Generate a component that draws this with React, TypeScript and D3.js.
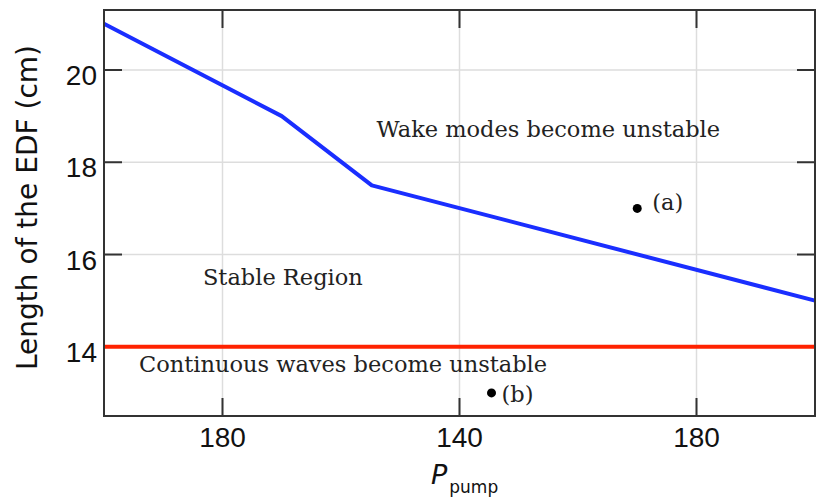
import * as d3 from 'd3';

// chart data
const wakeP = [110, 125, 132.6, 170];
const wakeL = [21.0, 19.0, 17.5, 15.0];
const cwP = [110, 170];
const cwL = [14, 14];
const pointNames = ['(a)', '(b)'];
const pointP = [155, 142.7];
const pointL = [17, 13];
const xTicks = [120, 140, 160];
const xTickLabels = ['180', '140', '180'];
const yTicks = [14, 16, 18, 20];
const regionTexts = ['Wake modes become unstable', 'Stable Region', 'Continuous waves become unstable'];
const regionP = [133, 118.35, 112.95];
const regionL = [18.55, 15.35, 13.46];

const width = 817;
const height = 500;
const margin = { top: 10, right: 2, bottom: 84, left: 104 };
const innerW = width - margin.left - margin.right;
const innerH = height - margin.top - margin.bottom;

// label offsets (px) next to the dots
const pointOffsets = [
    { dx: 15, dy: 1.5 },
    { dx: 10, dy: 9.5 },
];

export default function App() {
    const x = d3.scaleLinear().domain([110, 170]).range([0, innerW]);
    const y = d3.scaleLinear().domain([12.5, 21.3]).range([innerH, 0]);

    const pathOf = d3
        .line<[number, number]>()
        .x((d) => x(d[0]))
        .y((d) => y(d[1]));
    const wakePath = pathOf(wakeP.map((p, i) => [p, wakeL[i]]));
    const cwPath = pathOf(cwP.map((p, i) => [p, cwL[i]]));

    const tickLen = 18;
    const tickColor = '#333';
    const serif = '"DejaVu Serif", serif';
    const sans = '"Liberation Sans", Arial, sans-serif';

    return (
        <svg
            width={width}
            height={height}
            style={{ position: 'absolute', left: 0, top: 0, background: '#fff' }}
        >
            <g transform={`translate(${margin.left},${margin.top})`}>
                {/* grid */}
                {xTicks.map((t) => (
                    <line key={'gx' + t} x1={x(t)} x2={x(t)} y1={0} y2={innerH} stroke="#ddd" strokeWidth={1.5} />
                ))}
                {yTicks.map((t) => (
                    <line key={'gy' + t} x1={0} x2={innerW} y1={y(t)} y2={y(t)} stroke="#ddd" strokeWidth={1.5} />
                ))}

                {/* ticks on all four sides, pointing inward */}
                {xTicks.map((t) => (
                    <g key={'tx' + t} stroke={tickColor} strokeWidth={2}>
                        <line x1={x(t)} x2={x(t)} y1={innerH} y2={innerH - tickLen} />
                        <line x1={x(t)} x2={x(t)} y1={0} y2={tickLen} />
                    </g>
                ))}
                {yTicks.map((t) => (
                    <g key={'ty' + t} stroke={tickColor} strokeWidth={2}>
                        <line x1={0} x2={tickLen} y1={y(t)} y2={y(t)} />
                        <line x1={innerW} x2={innerW - tickLen} y1={y(t)} y2={y(t)} />
                    </g>
                ))}

                {/* data lines */}
                <path d={cwPath ?? ''} fill="none" stroke="#ff2200" strokeWidth={4} />
                <path d={wakePath ?? ''} fill="none" stroke="#1a2eff" strokeWidth={4} strokeLinejoin="round" />

                {/* points */}
                {pointNames.map((name, i) => (
                    <g key={name}>
                        <circle cx={x(pointP[i])} cy={y(pointL[i])} r={4.5} fill="#000" />
                        <text
                            x={x(pointP[i]) + pointOffsets[i].dx}
                            y={y(pointL[i]) + pointOffsets[i].dy}
                            fontFamily={serif}
                            fontSize={22.5}
                            fill="#222"
                        >
                            {name}
                        </text>
                    </g>
                ))}

                {/* region annotations */}
                {regionTexts.map((txt, i) => (
                    <text
                        key={txt}
                        x={x(regionP[i])}
                        y={y(regionL[i])}
                        fontFamily={serif}
                        fontSize={22.5}
                        fill="#222"
                    >
                        {txt}
                    </text>
                ))}

                {/* frame */}
                <rect x={0} y={0} width={innerW} height={innerH} fill="none" stroke={tickColor} strokeWidth={2} />

                {/* tick labels */}
                {xTicks.map((t, i) => (
                    <text
                        key={'lx' + t}
                        x={x(t)}
                        y={innerH + 31}
                        textAnchor="middle"
                        fontFamily={sans}
                        fontSize={28}
                        fill="#111"
                    >
                        {xTickLabels[i]}
                    </text>
                ))}
                {yTicks.map((t) => (
                    <text
                        key={'ly' + t}
                        x={-7}
                        y={y(t) + 15}
                        textAnchor="end"
                        fontFamily={sans}
                        fontSize={28}
                        fill="#111"
                    >
                        {t}
                    </text>
                ))}
            </g>

            {/* axis titles */}
            <text
                transform="translate(37,207.5) rotate(-90)"
                textAnchor="middle"
                fontFamily='"DejaVu Sans", sans-serif'
                fontSize={28}
                fill="#111"
            >
                Length of the EDF (cm)
            </text>
            <text x={431} y={484} fontFamily='"DejaVu Sans", sans-serif' fill="#111">
                <tspan fontStyle="italic" fontSize={27}>P</tspan>
                <tspan fontSize={17} dx={2} dy={8.5}>pump</tspan>
            </text>
        </svg>
    );
}
